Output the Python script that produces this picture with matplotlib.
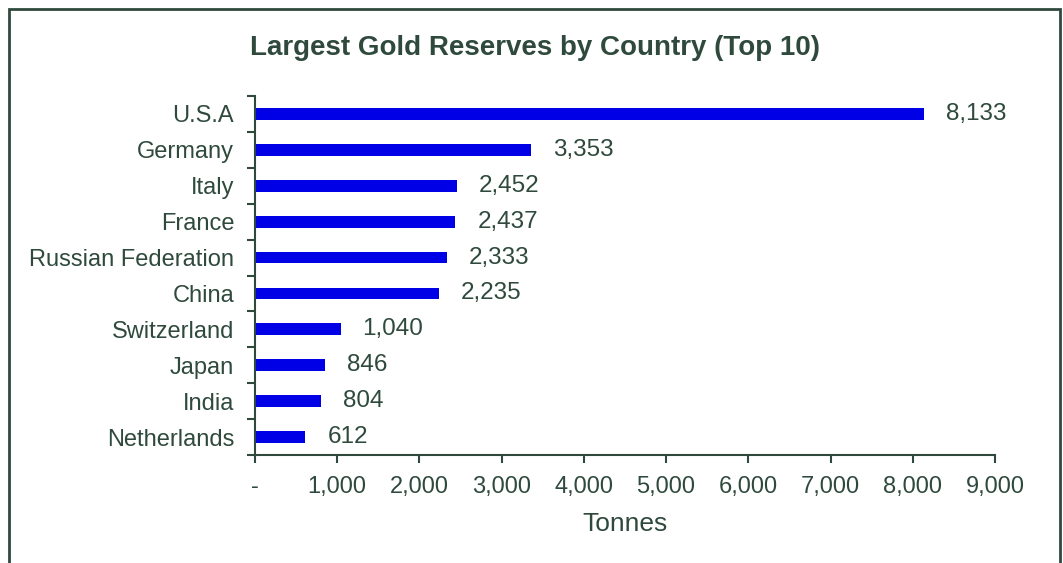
import matplotlib.pyplot as plt
import numpy as np
from matplotlib.patches import Rectangle

countries = ["U.S.A", "Germany", "Italy", "France", "Russian Federation",
             "China", "Switzerland", "Japan", "India", "Netherlands"]
tonnes = [8133, 3353, 2452, 2437, 2333, 2235, 1040, 846, 804, 612]
xticks = [0, 1000, 2000, 3000, 4000, 5000, 6000, 7000, 8000, 9000]
xtick_labels = ["-", "1,000", "2,000", "3,000", "4,000", "5,000",
                "6,000", "7,000", "8,000", "9,000"]

txt = "#2F4A3D"
plt.rcParams['font.family'] = ['Liberation Sans', 'DejaVu Sans']

fig = plt.figure(figsize=(10.63, 5.63), dpi=100)
ax = fig.add_axes([0.2399, 0.1918, 0.936 - 0.2399, 0.8295 - 0.1918])

y = np.arange(len(countries))
ax.barh(y, tonnes, height=0.33, color="#0000E6")
for yi, v in zip(y, tonnes):
    ax.annotate(f"{v:,}", (v, yi), xytext=(22, 0), textcoords="offset pixels",
                va="center", ha="left", fontsize=17.5, color=txt)

ax.set_ylim(len(countries) - 0.5, -0.5)
ax.set_xlim(0, 9000)
ax.set_yticks(y)
ax.set_yticklabels(countries, fontsize=17, color=txt)
ax.set_yticks(np.arange(-0.5, len(countries)), minor=True)
ax.tick_params(axis="y", which="major", length=0, pad=15)
ax.tick_params(axis="y", which="minor", length=6, width=1.5, color=txt, direction="out")
ax.set_xticks(xticks)
ax.set_xticklabels(xtick_labels, fontsize=17, color=txt)
ax.tick_params(axis="x", length=6, width=1.5, color=txt, pad=9)
ax.set_xlabel("Tonnes", fontsize=19, color=txt, labelpad=10)

for s in ["top", "right"]:
    ax.spines[s].set_visible(False)
for s in ["left", "bottom"]:
    ax.spines[s].set_color(txt)
    ax.spines[s].set_linewidth(1.5)

fig.text(0.503, 0.914, "Largest Gold Reserves by Country (Top 10)",
         ha="center", va="center", fontsize=20, fontweight="bold", color=txt)

fig.patches.append(Rectangle((9 / 1063, -0.1), 1051 / 1063, 1.1 - 9 / 563,
                             transform=fig.transFigure, fill=False,
                             edgecolor=txt, linewidth=2))

fig.savefig("out.png", dpi=100)
